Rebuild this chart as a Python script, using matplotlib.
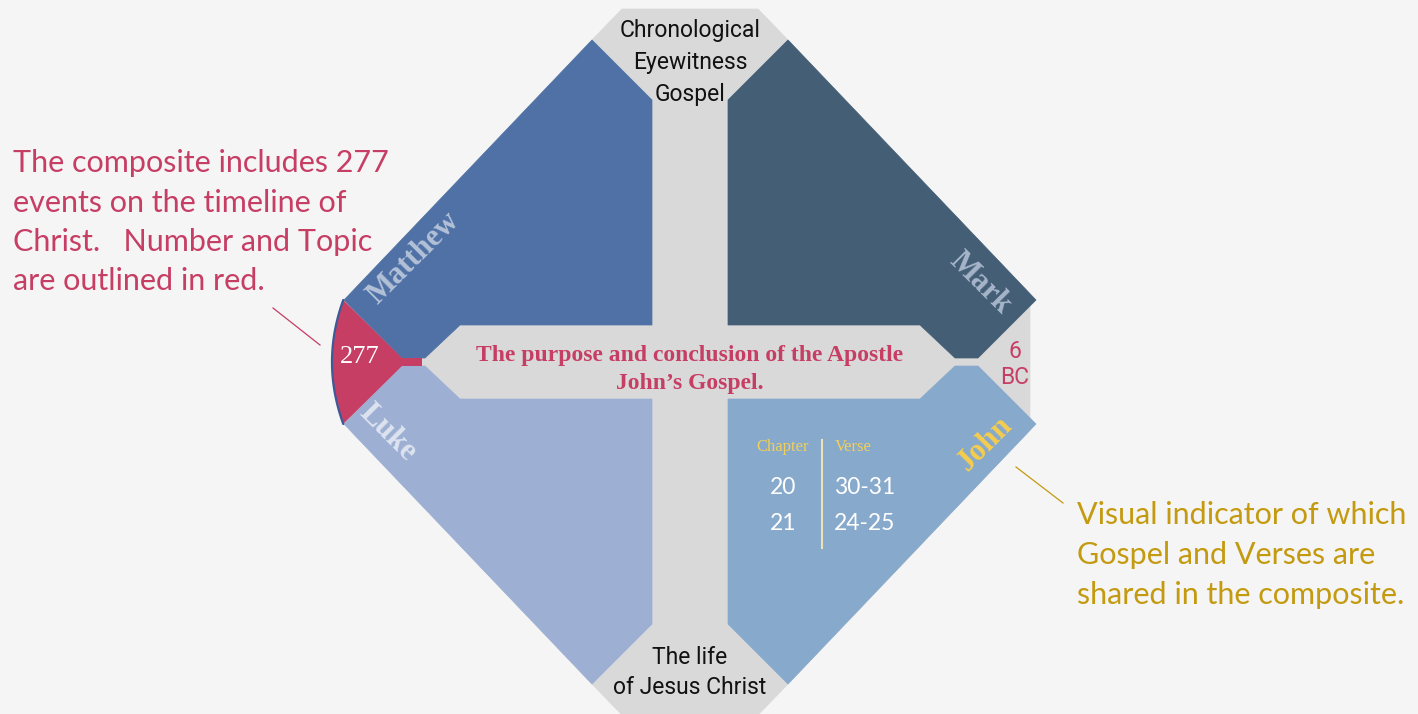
import numpy as np
import matplotlib.pyplot as plt
from matplotlib.patches import Polygon

# --- Content ---
gospels = ['Matthew', 'Mark', 'Luke', 'John']
gospel_colors = ['#4f71a5', '#435e75', '#9db0d4', '#87a9cb']
label_colors = ['#b3c1d8', '#a6b5c9', '#dde3ef', '#f6cd4c']
top_label = ['Chronological', 'Eyewitness', 'Gospel']
bottom_label = ['The life', 'of Jesus Christ']
center_label = ['The purpose and conclusion of the Apostle', 'John\u2019s Gospel.']
event_count = '277'
start_label = ['6', 'BC']
chapters = ['20', '21']
verses = ['30-31', '24-25']
left_note = ['The composite includes 277', 'events on the timeline of',
             'Christ.   Number and Topic', 'are outlined in red.']
right_note = ['Visual indicator of which', 'Gospel and Verses are',
              'shared in the composite.']

RED = '#c73e65'
GOLD = '#c49a10'
GRAY = '#d9d9d9'
BG = '#f5f5f5'
SANS = ['Lato', 'DejaVu Sans']
NARROW = ['Roboto', 'DejaVu Sans']
SERIF = ['Liberation Serif', 'DejaVu Serif']

# --- Geometry (pixel space, diagram centre) ---
cx, cy = 690, 362
signs = [(-1, -1), (1, -1), (-1, 1), (1, 1)]   # quadrant of each gospel
# one quadrant, x/y measured outward from the centre
quad = [(38, 37), (230, 37), (265, 4), (288, 4), (346, 62), (98, 322), (38, 262)]
gray_quad = [(0, 353), (68, 353), (100, 320), (340, 68), (340, 0)]


def to_px(pts, sx, sy):
    return [(cx + sx * x, cy + sy * y) for x, y in pts]


fig = plt.figure(figsize=(14.18, 7.14), dpi=100)
fig.patch.set_facecolor(BG)
ax = fig.add_axes([0, 0, 1, 1])
ax.set_xlim(0, 1418)
ax.set_ylim(714, 0)
ax.axis('off')

# gray backdrop: walk the four quadrants round
outline = []
for sx, sy, rev in [(1, -1, False), (1, 1, True), (-1, 1, False), (-1, -1, True)]:
    pts = gray_quad[::-1] if rev else gray_quad
    outline += to_px(pts, sx, sy)
ax.add_patch(Polygon(outline, closed=True, fc=GRAY, ec=GRAY, lw=0.5))

# gospel quadrants
for (sx, sy), c in zip(signs, gospel_colors):
    ax.add_patch(Polygon(to_px(quad, sx, sy), closed=True, fc=c, ec=c, lw=0.5))

# red event cap on the left
arc_y = np.linspace(-62, 62, 60)
arc_x = 346 + 12 * (1 - (arc_y / 64) ** 2)
cap = [(288, 4), (268, 4), (268, -4), (288, -4)] + list(zip(arc_x, arc_y))
ax.add_patch(Polygon(to_px(cap, -1, 1), closed=True, fc=RED, ec='none'))
ax.plot(cx - arc_x, cy + arc_y, color='#3b5a96', lw=1.6, solid_capstyle='round')

# --- Text inside the diagram ---
for i, t in enumerate(top_label):
    ax.text(cx, 30 + i * 32.5, t, ha='center', va='center', fontsize=16.5,
            family=NARROW, color='#111111')
for i, t in enumerate(bottom_label):
    ax.text(cx, 657 + i * 31, t, ha='center', va='center', fontsize=16.5,
            family=NARROW, color='#111111')
for i, t in enumerate(center_label):
    ax.text(cx, 355 + i * 28, t, ha='center', va='center', fontsize=17,
            family=SERIF, weight='bold', color=RED)

name_pos = [(414, 258, 45), (980, 283, -45), (388, 433, -45), (985, 444, 45)]
for name, col, (x, y, rot) in zip(gospels, label_colors, name_pos):
    ax.text(x, y, name, ha='center', va='center', rotation=rot, fontsize=22,
            family=SERIF, weight='bold', color=col, rotation_mode='anchor')

ax.text(360, 357, event_count, ha='center', va='center', fontsize=19,
        family=SERIF, color='white')
for i, t in enumerate(start_label):
    ax.text(1015, 352 + i * 26, t, ha='center', va='center', fontsize=16.5,
            family=NARROW, color=RED)

# chapter / verse table
ax.text(783, 447, 'Chapter', ha='center', va='center', fontsize=12,
        family=SERIF, color='#f2cf5a')
ax.text(853, 447, 'Verse', ha='center', va='center', fontsize=12,
        family=SERIF, color='#f2cf5a')
for i, (ch, vs) in enumerate(zip(chapters, verses)):
    ax.text(783, 487 + i * 36, ch, ha='center', va='center', fontsize=16.5,
            family=SANS, color='white')
    ax.text(865, 487 + i * 36, vs, ha='center', va='center', fontsize=16.5,
            family=SANS, color='white')
ax.plot([822, 822], [440, 548], color='#efe3b5', lw=1.5)

# --- Side notes ---
for i, t in enumerate(left_note):
    ax.text(13, 172 + i * 39.5, t, ha='left', va='baseline', fontsize=22,
            family=SANS, color=RED)
ax.plot([273, 320], [308, 345], color=RED, lw=0.9)

for i, t in enumerate(right_note):
    ax.text(1077, 524 + i * 40, t, ha='left', va='baseline', fontsize=22,
            family=SANS, color=GOLD)
ax.plot([1016, 1063], [467, 503], color=GOLD, lw=0.9)

plt.savefig('out.png', dpi=100, facecolor=BG)
